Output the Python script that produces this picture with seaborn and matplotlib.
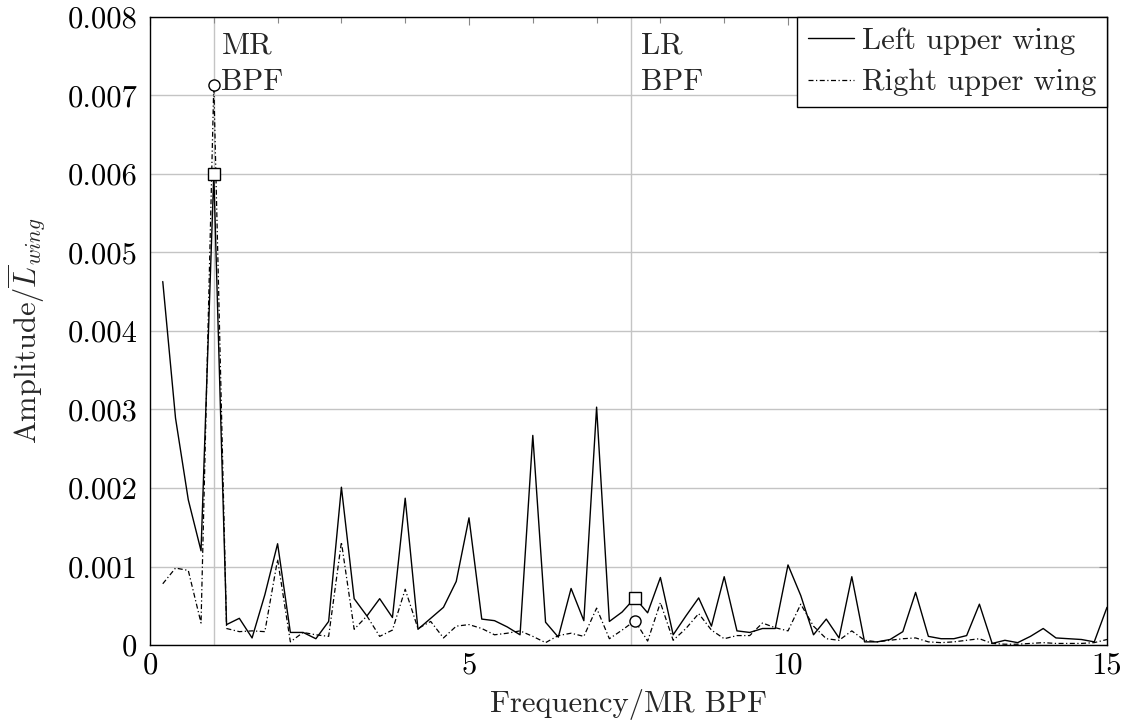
import numpy as np
import pandas as pd
import matplotlib
matplotlib.use("Agg")
import matplotlib.pyplot as plt
import seaborn as sns
from matplotlib.ticker import MultipleLocator, FuncFormatter

# ---- data (amplitudes in units of 1e-3) ----
freq = [0.2, 0.4, 0.6, 0.8, 1.0, 1.2, 1.4, 1.6, 1.8, 2.0,
        2.2, 2.4, 2.6, 2.8, 3.0, 3.2, 3.4, 3.6, 3.8, 4.0,
        4.2, 4.4, 4.6, 4.8, 5.0, 5.2, 5.4, 5.6, 5.8, 6.0,
        6.2, 6.4, 6.6, 6.8, 7.0, 7.2, 7.4, 7.6, 7.8, 8.0,
        8.2, 8.4, 8.6, 8.8, 9.0, 9.2, 9.4, 9.6, 9.8, 10.0,
        10.2, 10.4, 10.6, 10.8, 11.0, 11.2, 11.4, 11.6, 11.8, 12.0,
        12.2, 12.4, 12.6, 12.8, 13.0, 13.2, 13.4, 13.6, 13.8, 14.0,
        14.2, 14.4, 14.6, 14.8, 15.0]

left_wing = [4.63, 2.89, 1.85, 1.20, 6.00, 0.26, 0.34, 0.09, 0.64, 1.29,
             0.16, 0.16, 0.08, 0.30, 2.01, 0.59, 0.37, 0.59, 0.35, 1.87,
             0.20, 0.34, 0.48, 0.81, 1.62, 0.33, 0.31, 0.23, 0.13, 2.67,
             0.29, 0.10, 0.72, 0.31, 3.03, 0.30, 0.42, 0.60, 0.41, 0.86,
             0.13, 0.37, 0.60, 0.24, 0.87, 0.18, 0.16, 0.21, 0.21, 1.02,
             0.63, 0.13, 0.33, 0.09, 0.87, 0.04, 0.04, 0.07, 0.17, 0.67,
             0.11, 0.08, 0.08, 0.12, 0.52, 0.02, 0.06, 0.03, 0.11, 0.21,
             0.09, 0.08, 0.07, 0.04, 0.48]

right_wing = [0.78, 0.98, 0.95, 0.28, 7.14, 0.21, 0.17, 0.18, 0.17, 1.09,
              0.04, 0.16, 0.13, 0.11, 1.31, 0.20, 0.37, 0.11, 0.19, 0.71,
              0.21, 0.30, 0.09, 0.24, 0.26, 0.21, 0.13, 0.15, 0.18, 0.11,
              0.03, 0.12, 0.15, 0.11, 0.47, 0.08, 0.19, 0.31, 0.05, 0.54,
              0.06, 0.21, 0.40, 0.19, 0.08, 0.12, 0.12, 0.28, 0.22, 0.18,
              0.52, 0.24, 0.08, 0.06, 0.18, 0.06, 0.04, 0.06, 0.08, 0.09,
              0.04, 0.03, 0.04, 0.06, 0.08, 0.02, 0.01, 0.01, 0.02, 0.03,
              0.02, 0.02, 0.02, 0.03, 0.07]

series_names = ["Left upper wing", "Right upper wing"]
bpf_labels = ["MR\nBPF", "LR\nBPF"]
bpf_lines = [1.0, 7.54]
marker_freqs = [1.0, 7.6]

left = np.array(left_wing) * 1e-3
right = np.array(right_wing) * 1e-3

sns.set_style("white")
plt.rcParams["font.family"] = "serif"
plt.rcParams["font.serif"] = ["cmr10", "DejaVu Serif"]
plt.rcParams["mathtext.fontset"] = "cm"
plt.rcParams["axes.formatter.use_mathtext"] = True

FS = 22

fig = plt.figure(figsize=(11.25, 7.28), dpi=100)
ax = fig.add_axes([150/1125, 1 - 645/728, (1107-150)/1125, (645-17)/728])

df = pd.DataFrame({"freq": freq, "left": left, "right": right})

grid_c = "#c4c4c4"
ax.set_axisbelow(True)
ax.yaxis.grid(True, color=grid_c, lw=1.0)
ax.xaxis.grid(False)
for xv in bpf_lines:
    ax.axvline(xv, color=grid_c, lw=1.0, zorder=0.5)

sns.lineplot(data=df, x="freq", y="left", ax=ax, color="black", lw=1.0,
             label=series_names[0], sort=False)
sns.lineplot(data=df, x="freq", y="right", ax=ax, color="black", lw=0.9,
             ls=(0, (4, 2, 1, 2)), label=series_names[1], sort=False)

# markers at the BPF peaks
idx = [freq.index(f) for f in marker_freqs]
ax.plot([freq[i] for i in idx], [left[i] for i in idx], ls="none", marker="s",
        ms=8, mfc="white", mec="black", mew=1.0, zorder=5)
ax.plot([freq[i] for i in idx], [right[i] for i in idx], ls="none", marker="o",
        ms=8, mfc="white", mec="black", mew=1.0, zorder=5)

ax.text(1.12, 0.00781, bpf_labels[0], fontsize=FS, va="top", ha="left",
        linespacing=1.42)
ax.text(7.69, 0.00781, bpf_labels[1], fontsize=FS, va="top", ha="left",
        linespacing=1.42)

ax.set_xlim(0, 15)
ax.set_ylim(0, 0.008)
ax.xaxis.set_major_locator(MultipleLocator(5))
ax.xaxis.set_minor_locator(MultipleLocator(1))
ax.yaxis.set_major_locator(MultipleLocator(0.001))
ax.yaxis.set_major_formatter(FuncFormatter(lambda v, p: "0" if abs(v) < 1e-12 else f"{v:.3f}"))
ax.xaxis.set_major_formatter(FuncFormatter(lambda v, p: f"{v:.0f}"))
ax.tick_params(axis="both", which="both", direction="in", top=True, right=True,
               labelsize=FS, colors="black")
ax.tick_params(axis="both", which="major", length=6, width=0.8, color="#888888")
ax.tick_params(axis="both", which="minor", length=4, width=0.8, color="#888888")
ax.tick_params(axis="x", which="major", pad=5)
ax.tick_params(axis="y", which="major", pad=9)

for s in ax.spines.values():
    s.set_color("black")
    s.set_linewidth(1.0)

ax.set_xlabel("Frequency/MR BPF", fontsize=FS, labelpad=7)
ax.set_ylabel(r"Amplitude/$\overline{L}_{wing}$", fontsize=FS, labelpad=14)

leg = ax.legend(loc="upper right", fontsize=FS, frameon=True, fancybox=False,
                borderaxespad=0, borderpad=0.35, handlelength=1.5,
                handletextpad=0.27, labelspacing=0.45, edgecolor="black")
leg.get_frame().set_linewidth(1.0)
leg.get_frame().set_alpha(1)

fig.savefig("out.png", dpi=100)
